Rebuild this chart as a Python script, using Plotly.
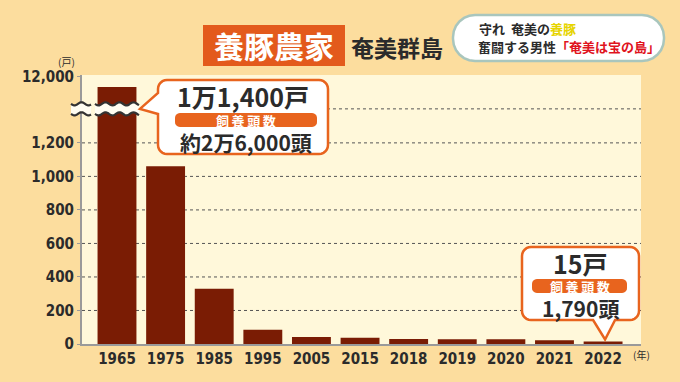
import math
import plotly.graph_objects as go

# ---------------- data ----------------
years = ["1965", "1975", "1985", "1995", "2005", "2015", "2018", "2019", "2020", "2021", "2022"]
farms = [11400, 1060, 330, 85, 42, 38, 30, 28, 28, 22, 15]
y_tick_values = [0, 200, 400, 600, 800, 1000, 1200, 12000]
y_tick_labels = ["0", "200", "400", "600", "800", "1,000", "1,200", "12,000"]
grid_values = [200, 400, 600, 800, 1000, 1200]

callout1_main = "1万1,400戸"
callout1_sub = "約2万6,000頭"
callout2_main = "15戸"
callout2_sub = "1,790頭"
band_label = "飼\u2009養\u2009頭\u2009数"

# ---------------- geometry / style ----------------
W, H = 680, 382
L, R, T, B = 82, 641, 75, 344
Y_MAX = 1605
X_RANGE = [-0.72, 10.78]
BREAK_DISP = 1403

BG = "#FCDD9E"
PLOT_BG = "#FFF8DA"
BAR = "#7A1C04"
ORANGE = "#E8641E"
DARK = "#2B2B2B"
JP = "Noto Sans CJK JP"
NUM = "Liberation Sans Narrow, DejaVu Sans Condensed, Noto Sans, sans-serif"


def disp(v):
    """broken axis: linear up to 1,200, compressed above the break"""
    return v if v <= 1200 else 394 + 0.1 * v


def py(d):
    return B - d / Y_MAX * (B - T)


def px(i):
    return L + (i - X_RANGE[0]) / (X_RANGE[1] - X_RANGE[0]) * (R - L)


def pxp(x):
    return (x - L) / (R - L)


def pyp(y):
    return (B - y) / (B - T)


def path_from(points, close=True):
    s = "M " + " L ".join(f"{pxp(x):.5f},{pyp(y):.5f}" for x, y in points)
    return s + (" Z" if close else "")


def arc(cx, cy, r, a0, a1, n=6):
    return [(cx + r * math.cos(math.radians(a0 + (a1 - a0) * k / n)),
             cy + r * math.sin(math.radians(a0 + (a1 - a0) * k / n))) for k in range(n + 1)]


def rounded(x0, y0, x1, y1, r, pointer=None):
    pts = []
    pts += [(x0 + r, y0), (x1 - r, y0)]
    pts += arc(x1 - r, y0 + r, r, -90, 0)
    pts += [(x1, y1 - r)]
    pts += arc(x1 - r, y1 - r, r, 0, 90)
    if pointer and pointer[0] == "bottom":
        _, xa, xb, tx, ty = pointer
        pts += [(xb, y1), (tx, ty), (xa, y1)]
    pts += [(x0 + r, y1)]
    pts += arc(x0 + r, y1 - r, r, 90, 180)
    if pointer and pointer[0] == "left":
        _, ya, yb, tx, ty = pointer
        pts += [(x0, yb), (tx, ty), (x0, ya)]
    pts += arc(x0 + r, y0 + r, r, 180, 270)
    return pts


def wave(x0, x1, yc, amp=1.6, wl=14.0, n=40):
    return [(x0 + (x1 - x0) * k / n,
             yc + amp * math.sin(2 * math.pi * ((x1 - x0) * k / n) / wl)) for k in range(n + 1)]


fig = go.Figure()
fig.add_trace(go.Bar(
    x=list(range(len(years))), y=[disp(v) for v in farms],
    marker=dict(color=BAR, line=dict(width=0)), width=0.8,
    hoverinfo="skip",
))

shapes = []
# dotted grid lines
for g in grid_values:
    d = disp(g)
    shapes.append(dict(type="line", xref="paper", yref="y", x0=0, x1=1, y0=d, y1=d,
                       line=dict(color="#555555", width=1, dash="dot"), layer="below"))
shapes.append(dict(type="line", xref="paper", yref="y", x0=pxp(px(0)), x1=1,
                   y0=BREAK_DISP, y1=BREAK_DISP,
                   line=dict(color="#555555", width=1, dash="dot"), layer="below"))

# break marks (on axis and across the 1965 bar)
yb = py(BREAK_DISP)
for (xa, xb) in [(71, 91), (px(0) - 22, px(0) + 22)]:
    up = wave(xa, xb, yb - 5)
    lo = wave(xa, xb, yb + 5)
    shapes.append(dict(type="path", xref="paper", yref="paper",
                       path=path_from(up + lo[::-1]), fillcolor="#FFFDF2",
                       line=dict(width=0)))
    for wv in (up, lo):
        shapes.append(dict(type="path", xref="paper", yref="paper",
                           path=path_from(wv, close=False),
                           line=dict(color="#333333", width=2.2)))

# callout 1 (1965)
shapes.append(dict(type="path", xref="paper", yref="paper",
                   path=path_from(rounded(158, 80, 328, 154, 9,
                                          ("left", 93, 114, px(0) + 23, yb))),
                   fillcolor="white", line=dict(color=ORANGE, width=2.5)))
shapes.append(dict(type="path", xref="paper", yref="paper",
                   path=path_from(rounded(175, 113, 317, 127, 5)),
                   fillcolor=ORANGE, line=dict(width=0)))
# callout 2 (2022)
tip_x, tip_y = px(10), py(disp(farms[-1])) - 2
shapes.append(dict(type="path", xref="paper", yref="paper",
                   path=path_from(rounded(522, 247, 639, 320, 9,
                                          ("bottom", tip_x - 10, tip_x + 12, tip_x + 2, tip_y))),
                   fillcolor="white", line=dict(color=ORANGE, width=2.5)))
shapes.append(dict(type="path", xref="paper", yref="paper",
                   path=path_from(rounded(532, 279, 627, 293, 5)),
                   fillcolor=ORANGE, line=dict(width=0)))

# title box
shapes.append(dict(type="rect", xref="paper", yref="paper",
                   x0=pxp(203), x1=pxp(345), y0=pyp(66), y1=pyp(25),
                   fillcolor="#E35A1C", line=dict(width=0)))
# top-right pill
shapes.append(dict(type="path", xref="paper", yref="paper",
                   path=path_from(rounded(453, 15, 664, 61, 22, None)),
                   fillcolor="white", line=dict(color="#A9C6BD", width=2.5)))

annotations = []


def ann(text, x, y, size, color=DARK, family=JP, weight="bold", xanchor="center"):
    annotations.append(dict(text=text, xref="paper", yref="paper", x=pxp(x), y=pyp(y),
                            xanchor=xanchor, yanchor="middle", showarrow=False,
                            borderpad=0,
                            font=dict(family=family, size=size, color=color, weight=weight)))


ann(callout1_main, 243, 96, 25)
ann(band_label, 246, 120, 13, color="white")
ann(callout1_sub, 246, 142, 21)
ann(callout2_main, 580, 263, 25)
ann(band_label, 580, 286, 13, color="white")
ann(callout2_sub, 580, 308, 21)

ann("養豚農家", 274, 45, 30, color="white")
ann("奄美群島", 397, 47, 23)
ann("守れ  奄美の<span style='color:#E6D400'>養豚</span>", 478, 28, 13, xanchor="left")
ann("奮闘する男性<span style='color:#E0141E'>「奄美は宝の島」</span>", 477, 46, 13, xanchor="left")

ann("(戸)", 66, 61, 10, family=JP, weight="normal")
ann("(年)", 641, 354, 10, family=JP, weight="normal")

fig.update_layout(
    width=W, height=H,
    margin=dict(l=L, r=W - R, t=T, b=H - B, pad=0),
    paper_bgcolor=BG, plot_bgcolor=PLOT_BG,
    showlegend=False, bargap=0.2,
    shapes=shapes, annotations=annotations,
    xaxis=dict(range=X_RANGE, tickmode="array", tickvals=list(range(len(years))),
               ticktext=years, showgrid=False, zeroline=False,
               showline=True, linecolor="#9A9A9A", linewidth=2,
               tickfont=dict(family=NUM, size=15, color=DARK, weight="bold"),
               ticks="", fixedrange=True),
    yaxis=dict(range=[0, Y_MAX], tickmode="array",
               tickvals=[disp(v) for v in y_tick_values], ticktext=y_tick_labels,
               showgrid=False, zeroline=False,
               showline=True, linecolor="#9A9A9A", linewidth=2,
               ticks="outside", ticklen=3, tickcolor="#9A9A9A",
               tickfont=dict(family=NUM, size=15, color=DARK, weight="bold"),
               fixedrange=True),
)

fig.write_html("out.html", config={"staticPlot": True},
               post_script="document.body.style.margin='0';document.body.style.overflow='hidden';")
